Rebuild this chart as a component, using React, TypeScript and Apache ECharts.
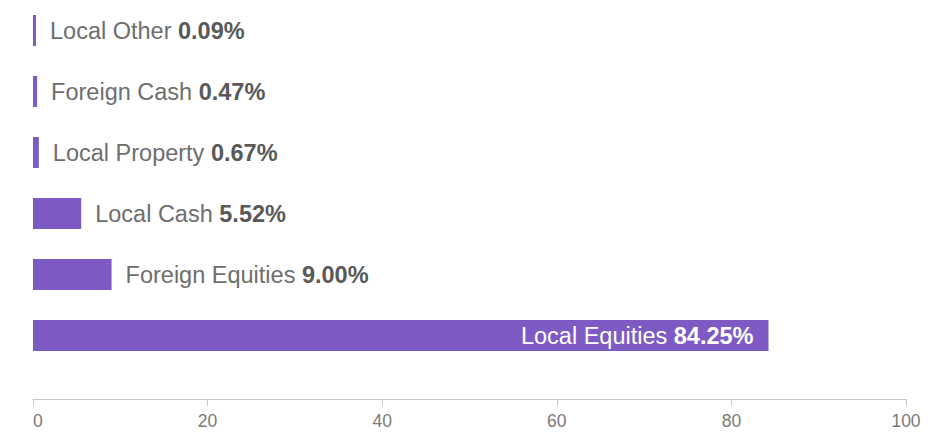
import React, { useEffect, useRef } from "react";
import * as echarts from "echarts";

const categories = ["Local Other", "Foreign Cash", "Local Property", "Local Cash", "Foreign Equities", "Local Equities"];
const values = [0.09, 0.47, 0.67, 5.52, 9.0, 84.25];
const xTicks = [0, 20, 40, 60, 80, 100];

const BAR = "#7e5bc4";
const FONT = "'Liberation Sans', Arial, sans-serif";
const LABEL_SIZE = 23.5;

export default function App() {
  const ref = useRef<HTMLDivElement>(null);
  useEffect(() => {
    if (!ref.current) return;
    const chart = echarts.init(ref.current, null, { renderer: "svg" });
    const maxVal = Math.max(...values);
    const data = values.map((v) => {
      const inside = v === maxVal && v > 50;
      return {
        value: v,
        label: inside
          ? {
              position: "insideRight",
              distance: 15,
              rich: {
                n: { color: "#ffffff", fontSize: LABEL_SIZE, fontWeight: "normal", fontFamily: FONT },
                v: { color: "#ffffff", fontSize: LABEL_SIZE, fontWeight: "bold", fontFamily: FONT },
              },
            }
          : undefined,
      };
    });
    chart.setOption({
      animation: false,
      grid: { left: 33, right: 27, top: -2, bottom: 68, containLabel: false },
      xAxis: {
        type: "value",
        min: xTicks[0],
        max: xTicks[xTicks.length - 1],
        interval: xTicks[1] - xTicks[0],
        offset: 33,
        axisLine: { show: true, lineStyle: { color: "#c8c8c8", width: 1 } },
        axisTick: { show: true, length: 7, lineStyle: { color: "#c8c8c8" } },
        splitLine: { show: false },
        axisLabel: {
          color: "#7a7a7a",
          fontSize: 17.5,
          fontFamily: FONT,
          margin: 13,
          alignMinLabel: "left",
        },
      },
      yAxis: {
        type: "category",
        data: categories,
        inverse: true,
        show: false,
      },
      series: [
        {
          type: "bar",
          data,
          barWidth: 31,
          barMinHeight: 3,
          itemStyle: { color: BAR },
          label: {
            show: true,
            position: "right",
            distance: 14,
            formatter: (p: any) => `{n|${p.name}\u00a0}{v|${Number(p.value).toFixed(2)}%}`,
            rich: {
              n: { color: "#6e6e6e", fontSize: LABEL_SIZE, fontWeight: "normal", fontFamily: FONT },
              v: { color: "#595959", fontSize: LABEL_SIZE, fontWeight: "bold", fontFamily: FONT },
            },
          },
        },
      ],
    });
    return () => chart.dispose();
  }, []);
  return <div ref={ref} style={{ width: 933, height: 434, position: "absolute", left: 0, top: 0 }} />;
}
